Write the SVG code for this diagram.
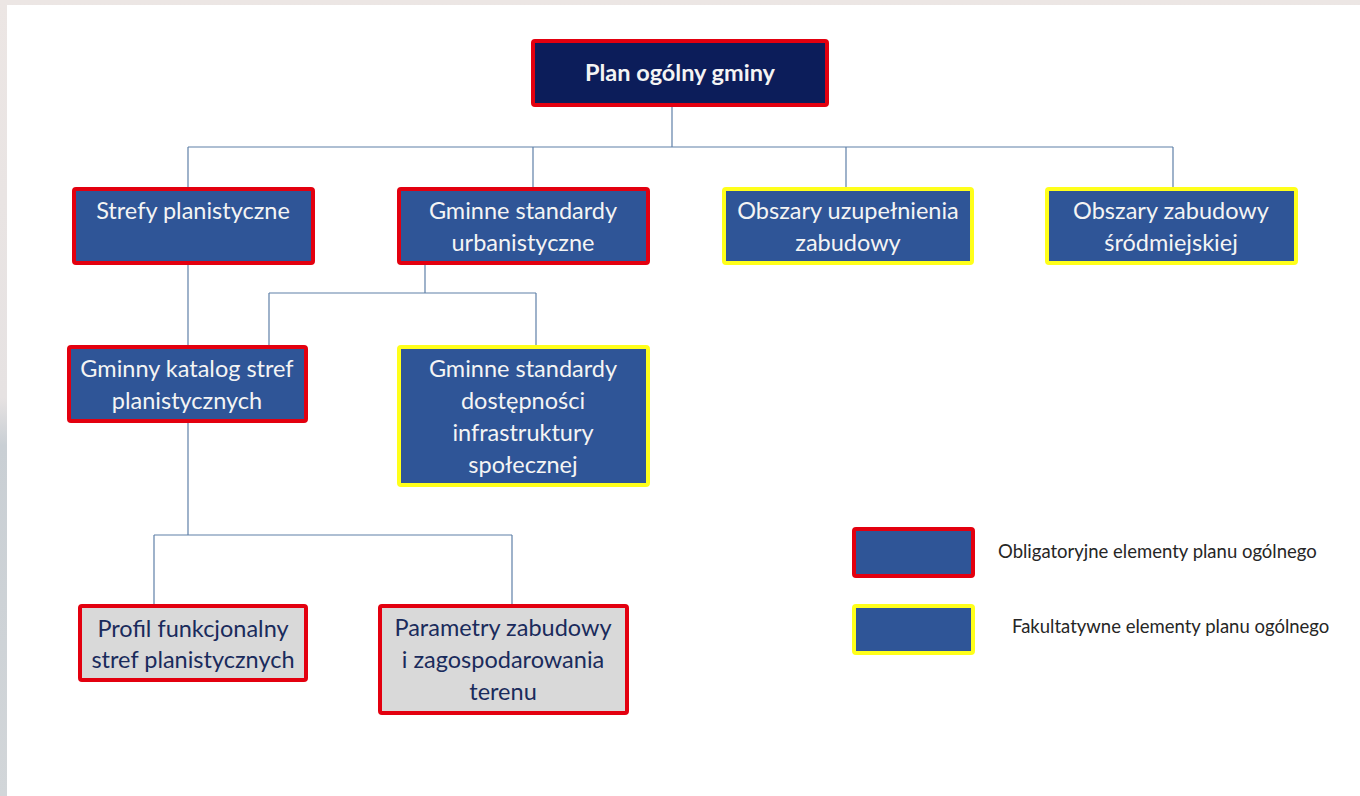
<svg xmlns="http://www.w3.org/2000/svg" width="1360" height="796" viewBox="0 0 1360 796">
<defs>
<linearGradient id="edge" x1="0" y1="0" x2="0" y2="1">
<stop offset="0" stop-color="#ece6e4"/>
<stop offset="0.5" stop-color="#e6e2e2"/>
<stop offset="0.56" stop-color="#c9cfd4"/>
<stop offset="1" stop-color="#d2d6d9"/>
</linearGradient>
<style>
.node{stroke-width:4}
.red{stroke:#e3000f}
.yel{stroke:#ffff1a}
.blue{fill:#2f5597}
.navy{fill:#0c1d5a}
.grey{fill:#d9d9d9}
.t{font-family:Lato,"Open Sans","Liberation Sans",sans-serif;font-size:23.5px;text-anchor:middle}
.w{fill:#f4f4f4}
.d{fill:#1a2b5c}
.lg{font-family:Lato,"Open Sans","Liberation Sans",sans-serif;font-size:18.5px;fill:#262626}
.c{fill:none;stroke:#5f80a8;stroke-width:1.2}
</style>
</defs>
<rect x="0" y="0" width="1360" height="796" fill="url(#edge)"/>
<rect x="7" y="5" width="1353" height="791" fill="#ffffff"/>

<g id="connectors">
<path class="c" d="M672 107V147M188 147H1173M188 147V187M533 147V187M846 147V187M1173 147V187"/>
<path class="c" d="M425 265V293M269 293H536M269 293V345M536 293V345"/>
<path class="c" d="M188 265V345M188 423V535M154 535H512M154 535V604M512 535V604"/>
</g>

<g id="plan-ogolny">
<rect class="node red navy" x="533" y="41" width="294" height="64" rx="2"/>
<text class="t w" x="680" y="81" font-weight="bold" font-size="23.5">Plan ogólny gminy</text>
</g>

<g id="strefy-planistyczne">
<rect class="node red blue" x="74" y="189" width="239" height="74" rx="2"/>
<text class="t w" x="193" y="219">Strefy planistyczne</text>
</g>

<g id="gminne-standardy-urbanistyczne">
<rect class="node red blue" x="399" y="189" width="249" height="74" rx="2"/>
<text class="t w" x="523" y="219">Gminne standardy</text>
<text class="t w" x="523" y="251">urbanistyczne</text>
</g>

<g id="obszary-uzupelnienia">
<rect class="node yel blue" x="724" y="189" width="248" height="74" rx="2"/>
<text class="t w" x="848" y="219">Obszary uzupełnienia</text>
<text class="t w" x="848" y="251">zabudowy</text>
</g>

<g id="obszary-srodmiejskiej">
<rect class="node yel blue" x="1047" y="189" width="249" height="74" rx="2"/>
<text class="t w" x="1171" y="219">Obszary zabudowy</text>
<text class="t w" x="1171" y="251">śródmiejskiej</text>
</g>

<g id="gminny-katalog">
<rect class="node red blue" x="69" y="347" width="237" height="74" rx="2"/>
<text class="t w" x="187" y="377">Gminny katalog stref</text>
<text class="t w" x="187" y="409">planistycznych</text>
</g>

<g id="gminne-standardy-dostepnosci">
<rect class="node yel blue" x="399" y="347" width="249" height="138" rx="2"/>
<text class="t w" x="523" y="377">Gminne standardy</text>
<text class="t w" x="523" y="409">dostępności</text>
<text class="t w" x="523" y="441">infrastruktury</text>
<text class="t w" x="523" y="473">społecznej</text>
</g>

<g id="profil-funkcjonalny">
<rect class="node red grey" x="80" y="606" width="226" height="74" rx="2"/>
<text class="t d" x="193" y="637">Profil funkcjonalny</text>
<text class="t d" x="193" y="668">stref planistycznych</text>
</g>

<g id="parametry-zabudowy">
<rect class="node red grey" x="380" y="606" width="247" height="107" rx="2"/>
<text class="t d" x="503" y="636">Parametry zabudowy</text>
<text class="t d" x="503" y="668">i zagospodarowania</text>
<text class="t d" x="503" y="700">terenu</text>
</g>

<g id="legend">
<rect class="node red blue" x="854" y="529" width="119" height="47" rx="2"/>
<text class="lg" x="998" y="558">Obligatoryjne elementy planu ogólnego</text>
<rect class="node yel blue" x="854" y="606" width="119" height="47" rx="2"/>
<text class="lg" x="1012" y="633">Fakultatywne elementy planu ogólnego</text>
</g>
</svg>
